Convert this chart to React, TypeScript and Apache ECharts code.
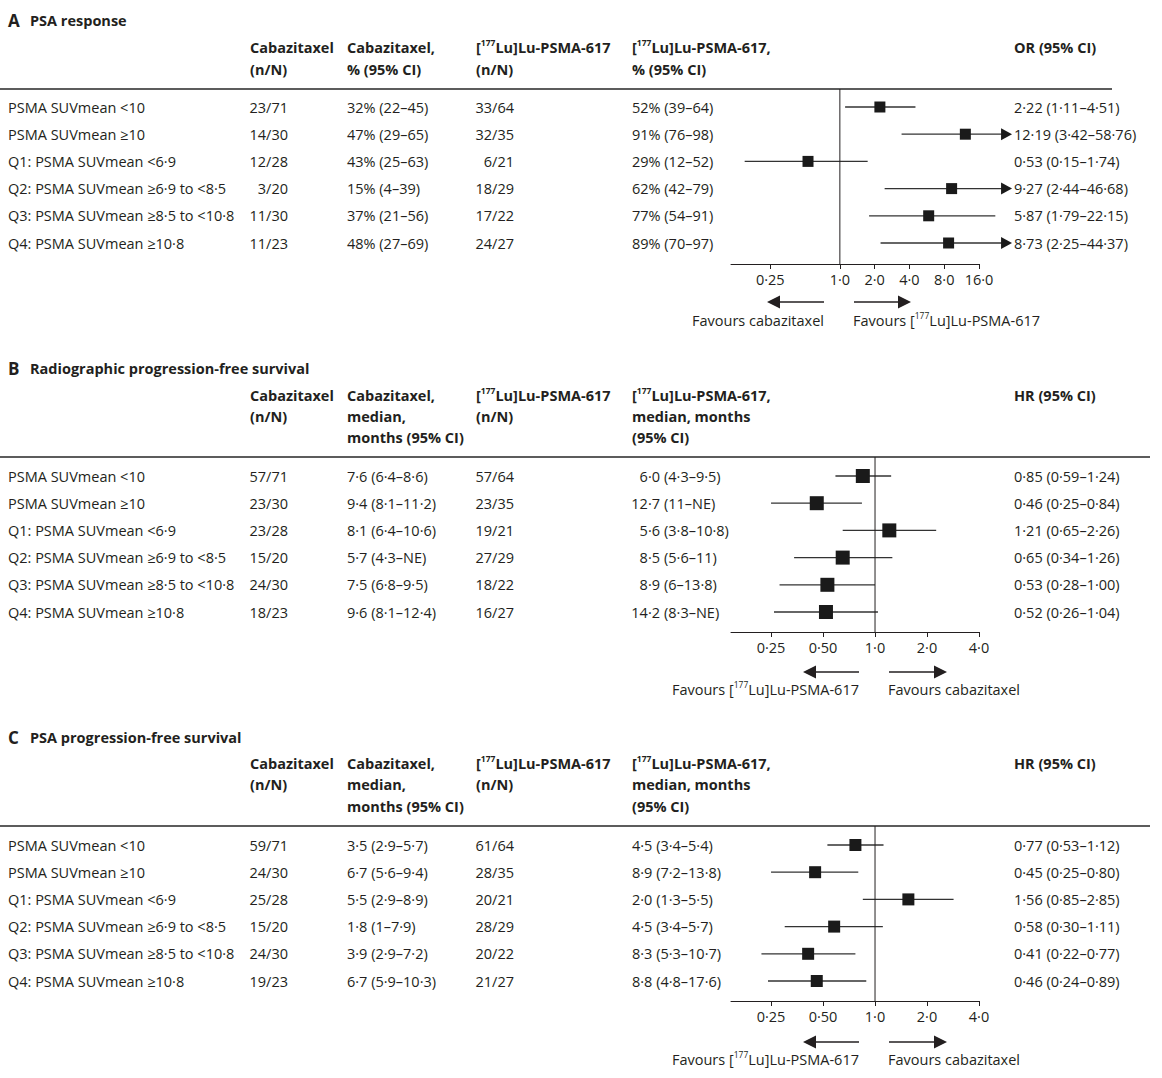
import React, { useEffect, useRef } from "react";
import * as echarts from "echarts";

const W = 1162;
const H = 1078;
const FONT = "'Open Sans', 'Noto Sans', 'DejaVu Sans', sans-serif";
const BODY_SIZE = 14.5;
const INK = "#231f20";
const WHISKER = "#333333";
const RULE = "#5c5c5c";

const subgroups = [
  "PSMA SUVmean <10",
  "PSMA SUVmean ≥10",
  "Q1: PSMA SUVmean <6·9",
  "Q2: PSMA SUVmean ≥6·9 to <8·5",
  "Q3: PSMA SUVmean ≥8·5 to <10·8",
  "Q4: PSMA SUVmean ≥10·8",
];

// A — PSA response
const psaCabazitaxelN = ["23/71", "14/30", "12/28", "3/20", "11/30", "11/23"];
const psaCabazitaxelPct = ["32% (22–45)", "47% (29–65)", "43% (25–63)", "15% (4–39)", "37% (21–56)", "48% (27–69)"];
const psaLutetiumN = ["33/64", "32/35", "6/21", "18/29", "17/22", "24/27"];
const psaLutetiumPct = ["52% (39–64)", "91% (76–98)", "29% (12–52)", "62% (42–79)", "77% (54–91)", "89% (70–97)"];
const psaOddsRatio = [2.22, 12.19, 0.53, 9.27, 5.87, 8.73];
const psaOddsLower = [1.11, 3.42, 0.15, 2.44, 1.79, 2.25];
const psaOddsUpper = [4.51, 58.76, 1.74, 46.68, 22.15, 44.37];
const orTickValues = [0.25, 1, 2, 4, 8, 16];
const orTickLabels = ["0·25", "1·0", "2·0", "4·0", "8·0", "16·0"];

// B — radiographic progression-free survival
const rpfsCabazitaxelN = ["57/71", "23/30", "23/28", "15/20", "24/30", "18/23"];
const rpfsCabazitaxelMedian = ["7·6 (6·4–8·6)", "9·4 (8·1–11·2)", "8·1 (6·4–10·6)", "5·7 (4·3–NE)", "7·5 (6·8–9·5)", "9·6 (8·1–12·4)"];
const rpfsLutetiumN = ["57/64", "23/35", "19/21", "27/29", "18/22", "16/27"];
const rpfsLutetiumMedian = ["6·0 (4·3–9·5)", "12·7 (11–NE)", "5·6 (3·8–10·8)", "8·5 (5·6–11)", "8·9 (6–13·8)", "14·2 (8·3–NE)"];
const rpfsHazard = [0.85, 0.46, 1.21, 0.65, 0.53, 0.52];
const rpfsHazardLower = [0.59, 0.25, 0.65, 0.34, 0.28, 0.26];
const rpfsHazardUpper = [1.24, 0.84, 2.26, 1.26, 1.0, 1.04];

// C — PSA progression-free survival
const psaPfsCabazitaxelN = ["59/71", "24/30", "25/28", "15/20", "24/30", "19/23"];
const psaPfsCabazitaxelMedian = ["3·5 (2·9–5·7)", "6·7 (5·6–9·4)", "5·5 (2·9–8·9)", "1·8 (1–7·9)", "3·9 (2·9–7·2)", "6·7 (5·9–10·3)"];
const psaPfsLutetiumN = ["61/64", "28/35", "20/21", "28/29", "20/22", "21/27"];
const psaPfsLutetiumMedian = ["4·5 (3·4–5·4)", "8·9 (7·2–13·8)", "2·0 (1·3–5·5)", "4·5 (3·4–5·7)", "8·3 (5·3–10·7)", "8·8 (4·8–17·6)"];
const psaPfsHazard = [0.77, 0.45, 1.56, 0.58, 0.41, 0.46];
const psaPfsHazardLower = [0.53, 0.25, 0.85, 0.3, 0.22, 0.24];
const psaPfsHazardUpper = [1.12, 0.8, 2.85, 1.11, 0.77, 0.89];
const hrTickValues = [0.25, 0.5, 1, 2, 4];
const hrTickLabels = ["0·25", "0·50", "1·0", "2·0", "4·0"];

const LU = "[{s|177}Lu]Lu-PSMA-617";

// Layout
const ROW_STEP = 27.2;
const FOREST_LEFT = 731;
const FOREST_WIDTH = 248;
const COL_LABEL = 8;
const COL_CAB_N_RIGHT = 288;
const COL_CAB_VALUE = 347;
const COL_LU_N_RIGHT = 514;
const COL_LU_VALUE = 632;
const COL_RATIO = 1014;
const HEAD_X = [250, 347, 476, 632, 1014];

type Panel = {
  letter: string;
  title: string;
  titleY: number;
  headY: number;
  headStep: number;
  headers: string[][];
  ruleY: number;
  ruleEnd: number;
  rowY0: number;
  axisY: number;
  xMinLog: number;
  capLog: number;
  box: number;
  ticks: number[];
  tickLabels: string[];
  cabN: string[];
  cabValue: string[];
  luN: string[];
  luValue: string[];
  luAnchor: number | null;
  est: number[];
  lo: number[];
  hi: number[];
  arrowY: number;
  favourY: number;
  leftArrow: [number, number];
  rightArrow: [number, number];
  leftText: string;
  rightText: string;
};

const survivalHeaders = [
  ["Cabazitaxel", "(n/N)"],
  ["Cabazitaxel,", "median,", "months (95% CI)"],
  [LU, "(n/N)"],
  [LU + ",", "median, months", "(95% CI)"],
  ["HR (95% CI)"],
];

const panels: Panel[] = [
  {
    letter: "A",
    title: "PSA response",
    titleY: 20,
    headY: 47,
    headStep: 22,
    headers: [
      ["Cabazitaxel", "(n/N)"],
      ["Cabazitaxel,", "% (95% CI)"],
      [LU, "(n/N)"],
      [LU + ",", "% (95% CI)"],
      ["OR (95% CI)"],
    ],
    ruleY: 89,
    ruleEnd: 1112,
    rowY0: 107,
    axisY: 264,
    xMinLog: -3.13,
    capLog: 4.95,
    box: 11,
    ticks: orTickValues,
    tickLabels: orTickLabels,
    cabN: psaCabazitaxelN,
    cabValue: psaCabazitaxelPct,
    luN: psaLutetiumN,
    luValue: psaLutetiumPct,
    luAnchor: null,
    est: psaOddsRatio,
    lo: psaOddsLower,
    hi: psaOddsUpper,
    arrowY: 302,
    favourY: 320,
    leftArrow: [824, 767],
    rightArrow: [854, 911],
    leftText: "Favours cabazitaxel",
    rightText: "Favours " + LU,
  },
  {
    letter: "B",
    title: "Radiographic progression-free survival",
    titleY: 368,
    headY: 395,
    headStep: 21,
    headers: survivalHeaders,
    ruleY: 457,
    ruleEnd: 1150,
    rowY0: 476,
    axisY: 632,
    xMinLog: -2.77,
    capLog: 99,
    box: 14,
    ticks: hrTickValues,
    tickLabels: hrTickLabels,
    cabN: rpfsCabazitaxelN,
    cabValue: rpfsCabazitaxelMedian,
    luN: rpfsLutetiumN,
    luValue: rpfsLutetiumMedian,
    luAnchor: 660,
    est: rpfsHazard,
    lo: rpfsHazardLower,
    hi: rpfsHazardUpper,
    arrowY: 672,
    favourY: 689,
    leftArrow: [859, 803],
    rightArrow: [889, 947],
    leftText: "Favours " + LU,
    rightText: "Favours cabazitaxel",
  },
  {
    letter: "C",
    title: "PSA progression-free survival",
    titleY: 737,
    headY: 763,
    headStep: 21.5,
    headers: survivalHeaders,
    ruleY: 826,
    ruleEnd: 1150,
    rowY0: 845,
    axisY: 1001,
    xMinLog: -2.77,
    capLog: 99,
    box: 12,
    ticks: hrTickValues,
    tickLabels: hrTickLabels,
    cabN: psaPfsCabazitaxelN,
    cabValue: psaPfsCabazitaxelMedian,
    luN: psaPfsLutetiumN,
    luValue: psaPfsLutetiumMedian,
    luAnchor: null,
    est: psaPfsHazard,
    lo: psaPfsHazardLower,
    hi: psaPfsHazardUpper,
    arrowY: 1042,
    favourY: 1059,
    leftArrow: [859, 803],
    rightArrow: [889, 947],
    leftText: "Favours " + LU,
    rightText: "Favours cabazitaxel",
  },
];

const fmt = (v: number) => v.toFixed(2).replace(".", "·");

const supRich = (weight: string) => ({
  s: {
    fontSize: 8.5,
    fontWeight: weight,
    fontFamily: FONT,
    fill: INK,
    verticalAlign: "top",
    lineHeight: 10,
  },
});

function textEl(text: string, x: number, y: number, opts: any = {}) {
  const weight = opts.weight || "normal";
  return {
    type: "text",
    x,
    y,
    silent: true,
    style: {
      text,
      fill: INK,
      fontSize: opts.size || BODY_SIZE,
      fontWeight: weight,
      fontFamily: FONT,
      align: opts.align || "left",
      verticalAlign: "middle",
      lineHeight: 18,
      rich: supRich(weight),
    },
  };
}

function buildOption() {
  const grid: any[] = [];
  const xAxis: any[] = [];
  const yAxis: any[] = [];
  const series: any[] = [];
  const graphic: any[] = [];

  panels.forEach((p, gi) => {
    const n = subgroups.length;
    const lastRowY = p.rowY0 + ROW_STEP * (n - 1);
    const yMin = -(p.rowY0 - p.ruleY) / ROW_STEP;
    const yMax = n - 1 + (p.axisY - lastRowY) / ROW_STEP;
    const tickPos = p.ticks.map((t) => Math.log2(t));
    const xMax = tickPos[tickPos.length - 1];

    grid.push({
      left: FOREST_LEFT,
      width: FOREST_WIDTH,
      top: p.ruleY,
      height: p.axisY - p.ruleY,
      containLabel: false,
      outerBoundsMode: "none",
    });

    xAxis.push({
      gridIndex: gi,
      type: "value",
      min: p.xMinLog,
      max: xMax,
      axisLine: { show: true, onZero: false, lineStyle: { color: INK, width: 1 } },
      axisTick: { show: true, customValues: tickPos, length: 5, lineStyle: { color: INK, width: 1 } },
      axisLabel: {
        customValues: tickPos,
        margin: 8,
        color: INK,
        fontSize: BODY_SIZE,
        fontFamily: FONT,
        formatter: (v: number) => {
          const i = tickPos.findIndex((t) => Math.abs(t - v) < 1e-6);
          return i >= 0 ? p.tickLabels[i] : "";
        },
      },
      splitLine: { show: false },
    });

    yAxis.push({ gridIndex: gi, type: "value", inverse: true, min: yMin, max: yMax, show: false });

    // line of no effect
    series.push({
      type: "line",
      xAxisIndex: gi,
      yAxisIndex: gi,
      data: [
        [0, yMin],
        [0, yMax],
      ],
      showSymbol: false,
      symbol: "none",
      silent: true,
      lineStyle: { color: INK, width: 1 },
    });

    // estimates with confidence intervals
    series.push({
      type: "custom",
      xAxisIndex: gi,
      yAxisIndex: gi,
      clip: false,
      silent: true,
      encode: { x: [1, 2, 3], y: 0 },
      data: subgroups.map((_, i) => [i, Math.log2(p.est[i]), Math.log2(p.lo[i]), Math.log2(p.hi[i])]),
      renderItem: (_params: any, api: any) => {
        const row = api.value(0);
        const est = api.value(1);
        const lo = api.value(2);
        const hi = api.value(3);
        const capped = hi > p.capLog;
        const [xLo, y] = api.coord([lo, row]);
        const [xHi] = api.coord([Math.min(hi, p.capLog), row]);
        const [xEst] = api.coord([est, row]);
        const s = p.box;
        const headW = 11;
        const children: any[] = [
          {
            type: "line",
            shape: { x1: xLo, y1: y, x2: capped ? xHi - headW + 1 : xHi, y2: y },
            style: { stroke: WHISKER, lineWidth: 1.3 },
          },
          {
            type: "rect",
            shape: { x: xEst - s / 2, y: y - s / 2, width: s, height: s },
            style: { fill: "#1a1a1a" },
          },
        ];
        if (capped) {
          children.push({
            type: "polygon",
            shape: { points: [[xHi, y], [xHi - headW, y - 6], [xHi - headW, y + 6]] },
            style: { fill: "#1a1a1a" },
          });
        }
        return { type: "group", children };
      },
    });

    // table rows
    series.push({
      type: "custom",
      xAxisIndex: gi,
      yAxisIndex: gi,
      clip: false,
      silent: true,
      encode: { x: 0, y: 1 },
      data: subgroups.map((_, i) => [p.xMinLog, i]),
      renderItem: (_params: any, api: any) => {
        const i = api.value(1);
        const [, y] = api.coord([p.xMinLog, i]);
        const t = (text: string, x: number, align = "left") => ({
          type: "text",
          x,
          y,
          style: {
            text,
            fill: INK,
            fontSize: BODY_SIZE,
            fontFamily: FONT,
            align,
            verticalAlign: "middle",
          },
        });
        const children: any[] = [
          t(subgroups[i], COL_LABEL),
          t(p.cabN[i], COL_CAB_N_RIGHT, "right"),
          t(p.cabValue[i], COL_CAB_VALUE),
          t(p.luN[i], COL_LU_N_RIGHT, "right"),
          t(`${fmt(p.est[i])} (${fmt(p.lo[i])}–${fmt(p.hi[i])})`, COL_RATIO),
        ];
        if (p.luAnchor == null) {
          children.push(t(p.luValue[i], COL_LU_VALUE));
        } else {
          const sp = p.luValue[i].indexOf(" ");
          children.push(t(p.luValue[i].slice(0, sp), p.luAnchor, "right"));
          children.push(t(p.luValue[i].slice(sp + 1), p.luAnchor + 4));
        }
        return { type: "group", children };
      },
    });

    // panel title
    graphic.push(textEl(p.letter, 8, p.titleY, { weight: "bold", size: 17 }));
    graphic.push(textEl(p.title, 30, p.titleY, { weight: "bold", size: 14.5 }));

    // column headers
    p.headers.forEach((lines, c) => {
      lines.forEach((line, k) => {
        graphic.push(textEl(line, HEAD_X[c], p.headY + k * p.headStep, { weight: "bold" }));
      });
    });

    // header rule
    graphic.push({
      type: "line",
      silent: true,
      shape: { x1: 0, y1: p.ruleY, x2: p.ruleEnd, y2: p.ruleY },
      style: { stroke: RULE, lineWidth: 2 },
    });

    // direction arrows
    const arrow = (tail: number, tip: number) => {
      const dir = tip > tail ? 1 : -1;
      graphic.push({
        type: "line",
        silent: true,
        shape: { x1: tail, y1: p.arrowY, x2: tip - dir * 10, y2: p.arrowY },
        style: { stroke: INK, lineWidth: 1.3 },
      });
      graphic.push({
        type: "polygon",
        silent: true,
        shape: {
          points: [
            [tip, p.arrowY],
            [tip - dir * 13, p.arrowY - 6.5],
            [tip - dir * 13, p.arrowY + 6.5],
          ],
        },
        style: { fill: INK },
      });
    };
    arrow(p.leftArrow[0], p.leftArrow[1]);
    arrow(p.rightArrow[0], p.rightArrow[1]);
    graphic.push(textEl(p.leftText, p.leftArrow[0], p.favourY, { align: "right" }));
    graphic.push(textEl(p.rightText, p.rightArrow[0] - 1, p.favourY));
  });

  return {
    animation: false,
    backgroundColor: "#ffffff",
    grid,
    xAxis,
    yAxis,
    series,
    graphic,
  };
}

export default function App() {
  const ref = useRef<HTMLDivElement>(null);
  useEffect(() => {
    if (!ref.current) return;
    const chart = echarts.init(ref.current, null, { renderer: "svg" });
    chart.setOption(buildOption());
    return () => chart.dispose();
  }, []);
  return (
    <div
      ref={ref}
      style={{ position: "absolute", left: 0, top: 0, width: W, height: H, background: "#fff" }}
    />
  );
}
